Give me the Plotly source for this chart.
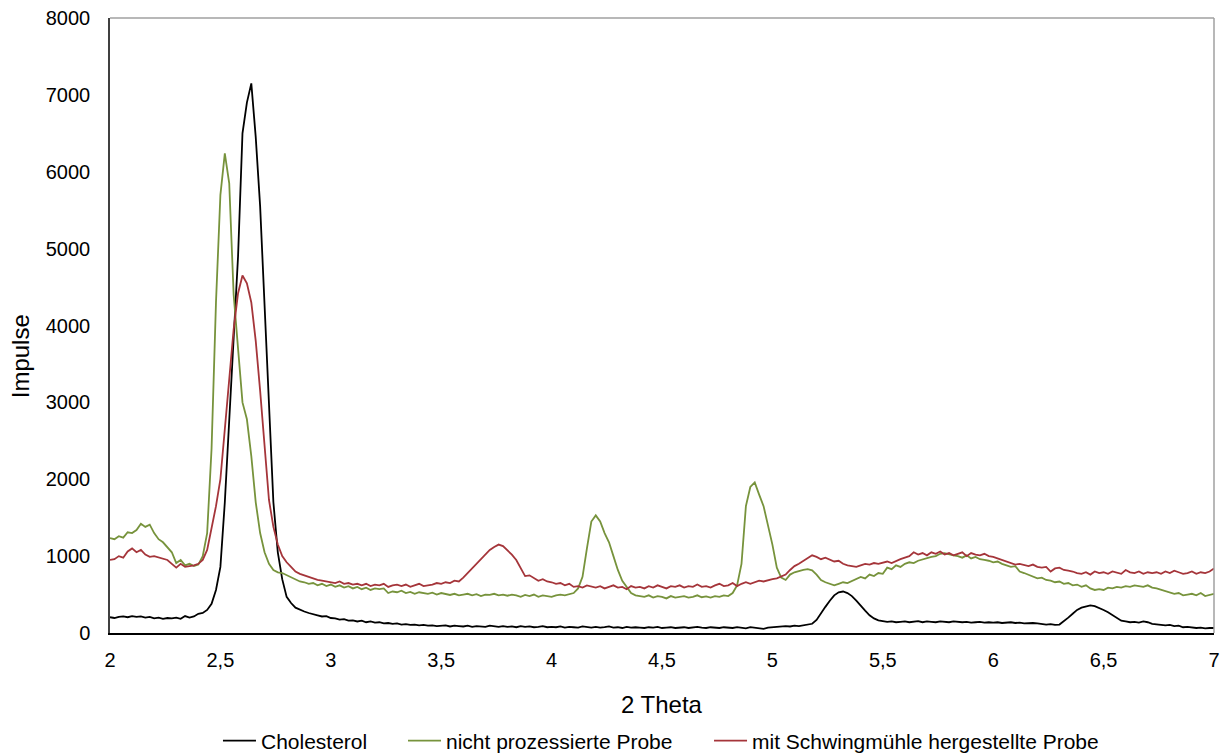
import plotly.graph_objects as go

# 2-Theta sample positions (step 0.02 from 2 to 7)
theta = [round(2 + 0.02 * i, 2) for i in range(251)]

cholesterol = [
    205, 195, 210, 215, 205, 220, 210, 215, 200, 210,
    190, 200, 185, 195, 190, 200, 185, 220, 200, 215,
    250, 260, 300, 380, 560, 860, 1700, 2800, 3900, 4900,
    6500, 6900, 7150, 6450, 5550, 4300, 2950, 1700, 1050, 700,
    470, 390, 330, 300, 280, 260, 240, 230, 215, 220,
    195, 190, 175, 180, 160, 165, 150, 160, 140, 150,
    135, 140, 125, 130, 120, 125, 110, 115, 105, 110,
    100, 105, 95, 100, 90, 95, 100, 85, 95, 90,
    85, 95, 80, 90, 85, 80, 95, 85, 80, 90,
    80, 85, 75, 90, 80, 85, 75, 80, 90, 75,
    80, 75, 85, 70, 80, 75, 70, 85, 75, 70,
    80, 70, 75, 85, 70, 75, 65, 80, 70, 75,
    70, 65, 75, 70, 80, 65, 70, 75, 65, 70,
    75, 65, 70, 80, 70, 65, 75, 70, 65, 75,
    70, 65, 75, 70, 60, 75, 70, 65, 55, 70,
    75, 80, 85, 90, 85, 95, 90, 100, 110, 120,
    170, 260, 340, 420, 490, 530, 540, 520, 480, 420,
    350, 290, 230, 190, 165, 150, 145, 150, 140, 145,
    150, 140, 145, 155, 140, 150, 145, 140, 150, 145,
    140, 150, 145, 140, 145, 135, 140, 145, 135, 140,
    135, 140, 130, 135, 140, 130, 135, 125, 130, 130,
    125, 120, 110, 115, 105, 110, 150, 200, 250, 300,
    330, 350, 360, 350, 330, 300, 270, 230, 190, 160,
    150, 140, 145, 135, 150, 140, 120, 115, 110, 100,
    105, 90, 95, 75, 80, 70, 65, 70, 60, 65,
    65,
]

nicht_prozessiert = [
    1235, 1220, 1260, 1240, 1310, 1300, 1340, 1420, 1380, 1410,
    1300, 1220, 1180, 1120, 1050, 910, 950, 880, 900, 870,
    890, 1000, 1300, 2400, 4300, 5700, 6240, 5850, 4400, 3700,
    3000, 2780, 2300, 1700, 1300, 1050, 900, 820, 790, 780,
    750, 720, 700, 670, 660, 640, 650, 620, 640, 610,
    630, 600, 620, 590, 610, 580, 600, 570, 590, 560,
    580, 570, 580, 520, 540, 530, 550, 520, 535, 510,
    530, 520, 510, 525, 500, 520, 505, 495, 510, 490,
    500, 510, 490, 505, 480, 500, 495, 510, 490, 500,
    485, 500, 490, 470, 495, 480, 500, 470, 490, 475,
    470, 490, 500, 490, 510, 520, 580, 730, 1100, 1450,
    1530, 1450, 1300, 1180, 1000, 820, 680, 600, 520, 490,
    480, 470, 490, 460, 480, 470, 450, 480, 460, 470,
    480, 460, 470, 490, 465, 475, 460, 480, 470, 490,
    480, 520, 620, 900, 1650, 1900, 1960, 1800, 1650, 1400,
    1150, 850, 720, 690, 760, 790, 810, 820, 830, 815,
    760, 690, 660, 640, 620, 640, 660, 650, 680, 700,
    730, 710, 760, 740, 780, 770, 850, 830, 880, 860,
    900, 920, 910, 940, 960, 980, 990, 1000, 1030, 1040,
    1020, 1010, 1000, 980, 1010, 970, 990, 960, 950, 940,
    920, 930, 900, 880, 860, 870, 800, 780, 760, 740,
    710, 720, 690, 680, 660, 670, 640, 650, 620, 630,
    600, 620, 580, 560, 570, 560, 590, 580, 600, 590,
    610, 600, 620, 610, 600, 620, 590, 580, 560, 540,
    530, 510, 520, 490, 500, 510, 490, 520, 480, 500,
    510,
]

schwingmuehle = [
    950, 960, 1000, 980, 1060, 1100, 1050, 1080, 1020, 990,
    1000, 980, 970, 950, 900, 850, 900, 860, 870, 880,
    900, 950, 1080, 1350, 1650, 2000, 2600, 3300, 3950, 4420,
    4650, 4550, 4300, 3800, 3150, 2450, 1730, 1380, 1150, 1000,
    920, 860, 800, 770, 750, 720, 700, 690, 680, 670,
    660, 650, 670, 640, 650, 630, 640, 620, 640, 610,
    630, 620, 640, 600, 620, 630, 610, 630, 600, 620,
    640, 610, 620, 630, 650, 640, 660, 650, 680, 670,
    720, 780, 830, 900, 960, 1020, 1080, 1120, 1150, 1130,
    1080, 1020, 950, 850, 740, 750, 720, 680, 700, 670,
    660, 640, 650, 620, 640, 600, 610, 590, 620, 600,
    590, 610, 580, 600, 620, 590, 600, 570, 610, 590,
    600, 580, 610, 590, 620, 600, 580, 610, 600, 620,
    590, 610, 600, 630, 600, 610, 590, 620, 640, 610,
    620, 650, 610, 640, 660, 640, 660, 680, 670, 690,
    700, 710, 730, 760, 820, 870, 900, 940, 980, 1010,
    990, 960, 980, 950, 930, 940, 900, 880, 870, 860,
    880, 900, 890, 910, 900, 920, 930, 910, 940, 960,
    980, 1000, 1050, 1020, 1040, 1010, 1050, 1030, 1060, 1020,
    1040, 1010, 1030, 1050, 1000, 1040, 1020, 1010, 1030, 1000,
    990, 970, 950, 930, 920, 890, 900, 880, 870, 890,
    860, 850, 860, 800, 840, 850, 820, 810, 800, 780,
    770, 790, 760, 800, 780, 790, 770, 800, 780, 770,
    820, 790, 780, 800, 770, 790, 780, 790, 770, 800,
    780, 810, 790, 770, 780, 800, 770, 790, 780, 800,
    840,
]

series_names = ["Cholesterol", "nicht prozessierte Probe", "mit Schwingmühle hergestellte Probe"]
x_ticks = [2, 2.5, 3, 3.5, 4, 4.5, 5, 5.5, 6, 6.5, 7]
y_ticks = [0, 1000, 2000, 3000, 4000, 5000, 6000, 7000, 8000]
x_title = "2 Theta"
y_title = "Impulse"

colors = ["#000000", "#77933C", "#A5353A"]
FONT = "Liberation Sans, Arial, sans-serif"
legend_ids = ["legend", "legend2", "legend3"]
legend_x = [0.0978, 0.2654, 0.5426]

fig = go.Figure()
for name, ys, c, lid in zip(series_names, [cholesterol, nicht_prozessiert, schwingmuehle],
                            colors, legend_ids):
    fig.add_trace(go.Scatter(x=theta, y=ys, mode="lines", name=name, legend=lid,
                             line=dict(color=c, width=1.8)))

legend_common = dict(orientation="h", y=-0.1756, yanchor="middle", xanchor="left",
                     font=dict(family=FONT, size=21, color="#000000"), itemwidth=33,
                     bgcolor="rgba(0,0,0,0)", borderwidth=0)

fig.update_layout(
    template="none",
    width=1228, height=754,
    margin=dict(l=110, r=14, t=18, b=121, pad=0, autoexpand=False),
    paper_bgcolor="white", plot_bgcolor="white",
    separators=",.",
    font=dict(family=FONT, size=20, color="#000000"),
    showlegend=True,
    legend=dict(x=legend_x[0], **legend_common),
    legend2=dict(x=legend_x[1], **legend_common),
    legend3=dict(x=legend_x[2], **legend_common),
    xaxis=dict(range=[2, 7], tickvals=x_ticks, showgrid=False, zeroline=False,
               showline=True, linecolor="#000000", linewidth=1.5, ticks="",
               tickfont=dict(size=20, color="#000000"), ticklabelstandoff=8,
               ticklabeloverflow="allow", automargin=False),
    yaxis=dict(range=[0, 8000], tickvals=y_ticks, showgrid=False, zeroline=False,
               showline=True, linecolor="#404040", linewidth=1.5, ticks="",
               tickfont=dict(size=20, color="#000000"), ticklabelstandoff=14,
               ticklabeloverflow="allow", automargin=False),
    shapes=[
        dict(type="line", xref="paper", yref="paper", x0=0, x1=1, y0=1, y1=1,
             line=dict(color="#A0A0A0", width=1.5)),
        dict(type="line", xref="paper", yref="paper", x0=1, x1=1, y0=0, y1=1,
             line=dict(color="#A0A0A0", width=1.5)),
    ],
    annotations=[
        dict(text=x_title, xref="paper", yref="paper", x=0.5, y=-0.116,
             xanchor="center", yanchor="middle", showarrow=False,
             font=dict(family=FONT, size=24, color="#000000")),
        dict(text=y_title, xref="paper", yref="paper", x=-0.0815, y=0.450,
             xanchor="center", yanchor="middle", showarrow=False, textangle=-90,
             font=dict(family=FONT, size=24, color="#000000")),
    ],
)

# remove the browser's default 8px body margin so the figure sits at the page origin
fig.write_html("out.html", config={"displayModeBar": False},
               post_script="document.body.style.margin='0';")
